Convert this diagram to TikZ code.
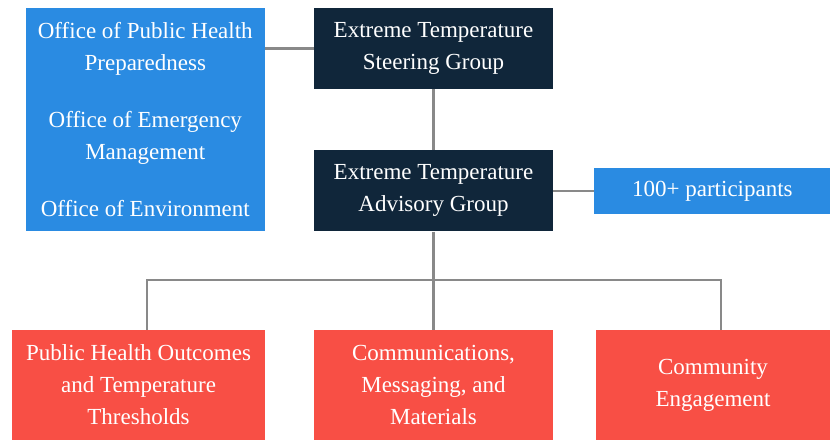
\documentclass[tikz,border=0pt]{standalone}
\usepackage{fontspec}
\setmainfont{Liberation Serif}
\usepackage{tikz}
\usetikzlibrary{positioning}
\usepackage{xcolor}
\definecolor{officeblue}{HTML}{2A8BE2}
\definecolor{groupnavy}{HTML}{10263A}
\definecolor{taskred}{HTML}{F84F45}
\definecolor{linkgray}{HTML}{898989}

\begin{document}
\begin{tikzpicture}[x=1pt,y=-1pt,
	box/.style={rectangle,inner sep=0pt,text=white,align=center,font=\fontsize{23}{32}\selectfont},
	officebox/.style={box,fill=officeblue,minimum width=239pt,minimum height=223pt},
	groupbox/.style={box,fill=groupnavy,minimum width=239pt,minimum height=81pt},
	partbox/.style={box,fill=officeblue,minimum width=236pt,minimum height=46pt},
	taskbox/.style={box,fill=taskred,minimum height=110pt},
	link/.style={draw=linkgray,line width=2.5pt}]
	\useasboundingbox (0,0) rectangle (830,440);
	\begin{scope}
		\node[groupbox] (steer) at (433.5,48.5) {Extreme Temperature\\Steering Group};
		\node[groupbox,below=61pt of steer] (advis) {Extreme Temperature\\Advisory Group};
		\node[officebox,anchor=north east] (offices) at (265,8) {Office of Public Health\\Preparedness\\[25pt]Office of Emergency\\Management\\[25pt]Office of Environment};
		\node[partbox,right=41pt of advis] (parts) {100+ participants};
		
		\node[taskbox,minimum width=253pt] (outcomes) at (138.5,385) {Public Health Outcomes\\and Temperature\\Thresholds};
		\node[taskbox,minimum width=239pt] (comms) at (433.5,385) {Communications,\\Messaging, and\\Materials};
		\node[taskbox,minimum width=234pt] (engage) at (713,385) {Community\\Engagement};
		
		\coordinate (bus) at (433.5,280);
		\coordinate (busL) at (147,280);
		\coordinate (busR) at (721,280);
	\end{scope}
	\begin{scope}[every path/.style={link}]
		\draw (steer.west) -- (steer.west -| offices.east);
		\draw (steer.south) -- (advis.north);
		\draw (advis.east) -- (parts.west);
		\draw (advis.south) -- (bus);
		\draw (busL |- outcomes.north) -- (busL) -- (busR) -- (busR |- engage.north);
		\draw (bus) -- (comms.north);
	\end{scope}
\end{tikzpicture}
\end{document}
